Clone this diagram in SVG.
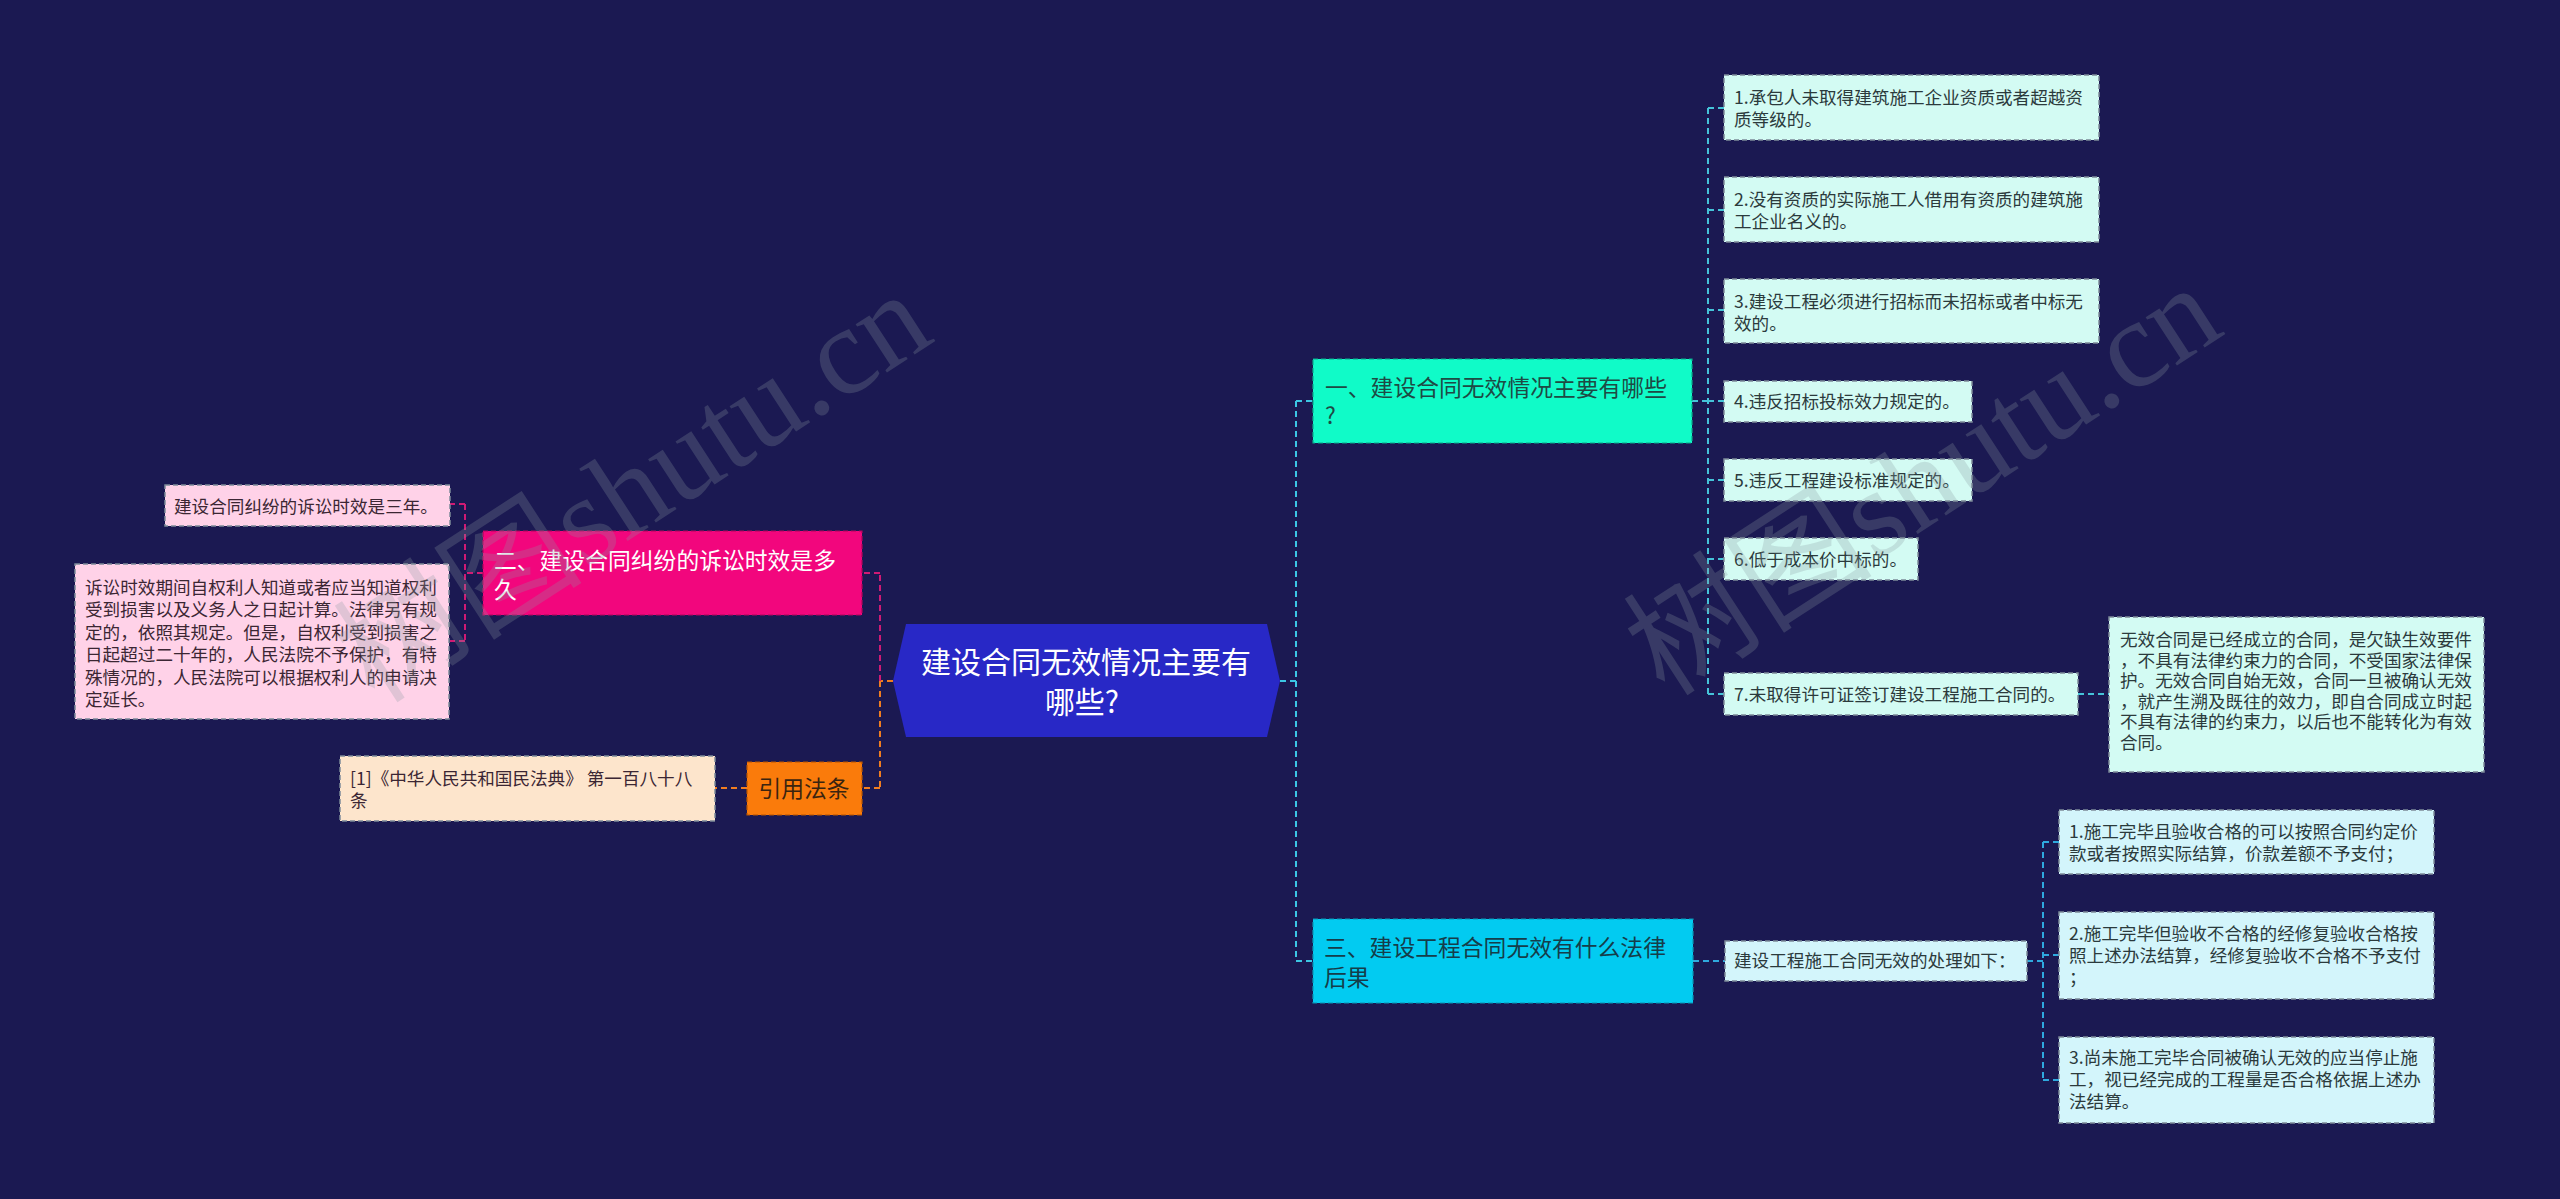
<svg xmlns="http://www.w3.org/2000/svg" width="2560" height="1199" viewBox="0 0 2560 1199">
<style>
text{font-family:"Noto Sans CJK SC","Noto Sans",sans-serif;}
.leaf{stroke:#7d8b99;stroke-width:1.5;stroke-dasharray:5 3;}
.lt{font-size:17.6px;fill:#2b3a3c;}
.pt{font-size:17.6px;fill:#3b2633;}
.mt{font-size:22.8px;}
.conn{fill:none;stroke-width:2;stroke-dasharray:6 4;}
.wm{font-family:"Liberation Serif","Noto Sans CJK SC",serif;font-size:125px;fill:#8a9aa0;opacity:0.26;}
</style>
<rect width="2560" height="1199" fill="#1b1952"/>

<g id="connectors">
  <path class="conn" stroke="#3cc6e4" d="M1280 681 H1296 M1296 401 V961 M1296 401 H1313 M1296 961 H1313"/>
  <path class="conn" stroke="#45c3d8" d="M1692 401 H1708 M1708 108 V694 M1708 108 H1724 M1708 210 H1724 M1708 310 H1724 M1708 401 H1724 M1708 480 H1724 M1708 559 H1724 M1708 694 H1724 M2078 694 H2109"/>
  <path class="conn" stroke="#2fa9de" d="M1693 961 H1725 M2027 961 H2043 M2043 842 V1080 M2043 842 H2059 M2043 955 H2059 M2043 1080 H2059"/>
  <path class="conn" stroke="#f07d20" d="M893 681 H880 M880 681 V788 M880 788 H862 M747 788 H715"/>
  <path class="conn" stroke="#d01a74" d="M880 681 V573 M880 573 H862 M483 573 H465 M465 504 V641 M465 504 H450 M465 641 H450"/>
</g>

<g id="central">
  <polygon points="893,681 906,624 1267,624 1280,681 1267,737 906,737" fill="#2828c6"/>
  <text x="1086" y="673" font-size="30" fill="#ffffff" text-anchor="middle">建设合同无效情况主要有</text>
  <text x="1082" y="713" font-size="30" fill="#ffffff" text-anchor="middle">哪些?</text>
</g>

<g id="node1">
  <rect x="1313" y="359" width="379" height="84" fill="#10fbc8" stroke="#0aa98c" stroke-width="1.2" stroke-dasharray="5 3"/>
  <text class="mt" x="1325" y="396" fill="#1e4a44">一、建设合同无效情况主要有哪些</text>
  <text class="mt" x="1325" y="424" fill="#1e4a44">?</text>
</g>

<g id="n1c1">
  <rect class="leaf" x="1724" y="75" width="375" height="65" fill="#d3fbf3"/>
  <text class="lt" x="1734" y="104">1.承包人未取得建筑施工企业资质或者超越资</text>
  <text class="lt" x="1734" y="126">质等级的。</text>
</g>
<g id="n1c2">
  <rect class="leaf" x="1724" y="177" width="375" height="65" fill="#d3fbf3"/>
  <text class="lt" x="1734" y="206">2.没有资质的实际施工人借用有资质的建筑施</text>
  <text class="lt" x="1734" y="228">工企业名义的。</text>
</g>
<g id="n1c3">
  <rect class="leaf" x="1724" y="279" width="375" height="64" fill="#d3fbf3"/>
  <text class="lt" x="1734" y="308">3.建设工程必须进行招标而未招标或者中标无</text>
  <text class="lt" x="1734" y="330">效的。</text>
</g>
<g id="n1c4">
  <rect class="leaf" x="1724" y="381" width="248" height="41" fill="#d3fbf3"/>
  <text class="lt" x="1734" y="408">4.违反招标投标效力规定的。</text>
</g>
<g id="n1c5">
  <rect class="leaf" x="1724" y="459" width="248" height="42" fill="#d3fbf3"/>
  <text class="lt" x="1734" y="487">5.违反工程建设标准规定的。</text>
</g>
<g id="n1c6">
  <rect class="leaf" x="1724" y="538" width="194" height="42" fill="#d3fbf3"/>
  <text class="lt" x="1734" y="566">6.低于成本价中标的。</text>
</g>
<g id="n1c7">
  <rect class="leaf" x="1724" y="673" width="354" height="42" fill="#d3fbf3"/>
  <text class="lt" x="1734" y="701">7.未取得许可证签订建设工程施工合同的。</text>
</g>
<g id="n1c7d">
  <rect class="leaf" x="2109" y="617" width="375" height="155" fill="#d3fbf3"/>
  <text class="lt" x="2120" y="646">无效合同是已经成立的合同，是欠缺生效要件</text>
  <text class="lt" x="2120" y="667">，不具有法律约束力的合同，不受国家法律保</text>
  <text class="lt" x="2120" y="687">护。无效合同自始无效，合同一旦被确认无效</text>
  <text class="lt" x="2120" y="708">，就产生溯及既往的效力，即自合同成立时起</text>
  <text class="lt" x="2120" y="728">不具有法律的约束力，以后也不能转化为有效</text>
  <text class="lt" x="2120" y="749">合同。</text>
</g>

<g id="node3">
  <rect x="1313" y="919" width="380" height="84" fill="#02cbf1" stroke="#0a95b5" stroke-width="1.2" stroke-dasharray="5 3"/>
  <text class="mt" x="1324" y="956" fill="#153d4a">三、建设工程合同无效有什么法律</text>
  <text class="mt" x="1324" y="986" fill="#153d4a">后果</text>
</g>
<g id="n3c">
  <rect class="leaf" x="1725" y="941" width="302" height="40" fill="#d3f5fb"/>
  <text class="lt" x="1734" y="967">建设工程施工合同无效的处理如下：</text>
</g>
<g id="n3c1">
  <rect class="leaf" x="2059" y="810" width="375" height="64" fill="#d3f5fb"/>
  <text class="lt" x="2069" y="838">1.施工完毕且验收合格的可以按照合同约定价</text>
  <text class="lt" x="2069" y="860">款或者按照实际结算，价款差额不予支付；</text>
</g>
<g id="n3c2">
  <rect class="leaf" x="2059" y="912" width="375" height="87" fill="#d3f5fb"/>
  <text class="lt" x="2069" y="940">2.施工完毕但验收不合格的经修复验收合格按</text>
  <text class="lt" x="2069" y="962">照上述办法结算，经修复验收不合格不予支付</text>
  <text class="lt" x="2069" y="984">；</text>
</g>
<g id="n3c3">
  <rect class="leaf" x="2059" y="1037" width="375" height="86" fill="#d3f5fb"/>
  <text class="lt" x="2069" y="1064">3.尚未施工完毕合同被确认无效的应当停止施</text>
  <text class="lt" x="2069" y="1086">工，视已经完成的工程量是否合格依据上述办</text>
  <text class="lt" x="2069" y="1108">法结算。</text>
</g>

<g id="node2">
  <rect x="483" y="531" width="379" height="84" fill="#f2067d" stroke="#b0045c" stroke-width="1.2" stroke-dasharray="5 3"/>
  <text class="mt" x="494" y="569" fill="#ffffff">二、建设合同纠纷的诉讼时效是多</text>
  <text class="mt" x="494" y="598" fill="#ffffff">久</text>
</g>
<g id="n2c1">
  <rect class="leaf" x="165" y="485" width="285" height="41" fill="#ffd2e8"/>
  <text class="pt" x="174" y="513">建设合同纠纷的诉讼时效是三年。</text>
</g>
<g id="n2c2">
  <rect class="leaf" x="75" y="564" width="374" height="155" fill="#ffd2e8"/>
  <text class="pt" x="85" y="594">诉讼时效期间自权利人知道或者应当知道权利</text>
  <text class="pt" x="85" y="616">受到损害以及义务人之日起计算。法律另有规</text>
  <text class="pt" x="85" y="639">定的，依照其规定。但是，自权利受到损害之</text>
  <text class="pt" x="85" y="661">日起超过二十年的，人民法院不予保护，有特</text>
  <text class="pt" x="85" y="684">殊情况的，人民法院可以根据权利人的申请决</text>
  <text class="pt" x="85" y="706">定延长。</text>
</g>

<g id="node4">
  <rect x="747" y="762" width="115" height="53" fill="#fa7b0b" stroke="#b85500" stroke-width="1.2" stroke-dasharray="5 3"/>
  <text class="mt" x="804" y="797" fill="#3a2410" text-anchor="middle">引用法条</text>
</g>
<g id="n4c1">
  <rect class="leaf" x="340" y="756" width="375" height="65" fill="#fde5cc"/>
  <text class="pt" x="350" y="785" fill="#3a2a1a">[1]《中华人民共和国民法典》 第一百八十八</text>
  <text class="pt" x="350" y="807" fill="#3a2a1a">条</text>
</g>

<g id="watermarks">
  <text class="wm" x="375" y="705" transform="rotate(-33 375 705)">树图shutu.cn</text>
  <text class="wm" x="1665" y="698" transform="rotate(-33 1665 698)">树图shutu.cn</text>
</g>
</svg>
